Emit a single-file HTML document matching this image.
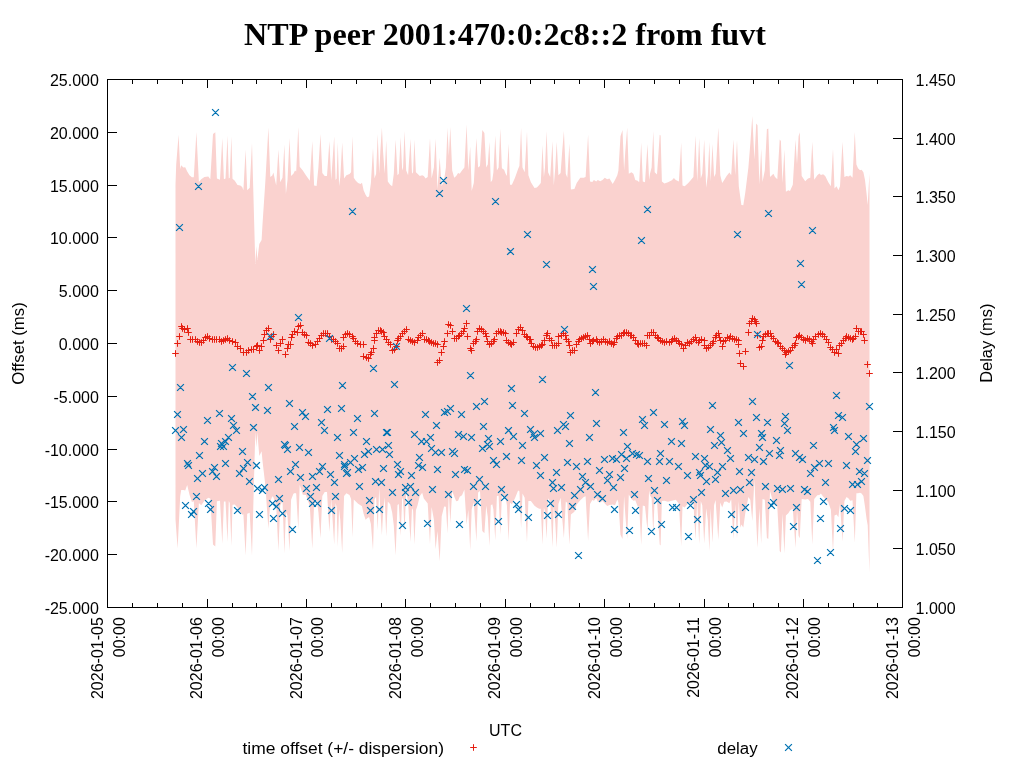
<!DOCTYPE html>
<html lang="en"><head><meta charset="utf-8"><title>NTP peer 2001:470:0:2c8::2 from fuvt</title>
<style>html,body{margin:0;padding:0;background:#fff;}body{width:1024px;height:768px;overflow:hidden;}svg{display:block;}
text{font-family:"Liberation Sans",sans-serif;font-size:16px;fill:#000;}
.title{font-family:"Liberation Serif",serif;font-weight:bold;font-size:32px;}
.ax{stroke:#000;stroke-width:1;fill:none;shape-rendering:crispEdges;}
.r{stroke:#e51e10;stroke-width:1;fill:none;}.b{stroke:#0072b2;stroke-width:1.25;fill:none;}
</style></head><body>
<svg width="1024" height="768" viewBox="0 0 1024 768">
<rect x="0" y="0" width="1024" height="768" fill="#fff"/>
<text class="title" x="505" y="45" text-anchor="middle" textLength="522" lengthAdjust="spacingAndGlyphs">NTP peer 2001:470:0:2c8::2 from fuvt</text>
<polygon fill="#fad2cf" points="175.5,184.4 176.2,164.4 178.6,134.8 180.2,169.1 181.2,165.2 183.3,167.5 185.2,167.2 187.2,171.4 189.5,175.3 191.9,177.2 193.8,177.2 196.4,132.1 198.9,181.9 201.2,179.2 204.4,176.9 208.3,176.6 210.3,179.2 213.0,133.9 215.3,132.3 216.9,178.4 220.0,179.7 222.3,137.9 223.9,179.2 225.5,178.4 227.5,135.6 228.8,178.4 229.7,177.7 231.4,136.6 232.5,178.8 234.8,180.8 237.5,185.0 240.3,185.5 242.2,187.0 243.4,190.2 245.6,149.6 247.2,190.2 249.7,187.8 252.0,143.1 255.3,264.0 256.4,246.0 257.3,260.0 259.3,244.0 261.6,240.0 262.5,224.3 265.3,182.3 268.4,127.4 270.3,176.9 272.3,175.6 273.4,172.5 276.2,185.5 278.4,149.6 280.2,182.3 282.5,177.7 284.4,144.6 285.9,194.1 287.5,180.0 289.5,137.9 291.1,176.1 293.4,173.8 295.0,170.6 296.2,171.4 298.3,127.0 299.7,166.7 302.8,170.6 305.9,175.3 309.8,180.8 312.3,141.0 314.1,185.5 316.6,185.9 318.4,167.5 320.5,134.0 322.3,173.0 324.7,176.1 327.0,176.1 329.4,141.0 331.2,180.0 334.2,136.3 335.6,180.0 336.6,178.4 337.8,142.6 339.1,186.2 340.3,176.9 342.2,142.6 344.1,178.4 346.4,175.3 349.5,174.1 351.1,172.2 352.5,136.3 353.8,177.7 355.8,180.8 358.1,183.1 360.5,183.9 362.0,182.8 363.6,190.2 365.6,194.8 367.2,197.2 369.1,196.4 370.9,183.1 373.0,148.1 374.5,178.4 376.1,173.8 377.7,134.0 379.2,173.8 380.3,151.9 381.9,127.4 383.1,151.9 384.7,173.8 386.2,140.2 387.8,181.6 390.2,184.7 392.2,186.2 393.8,173.8 395.6,139.5 397.5,175.3 398.8,173.8 400.6,137.1 402.2,170.6 403.1,167.5 404.5,130.9 406.2,170.6 408.1,175.3 410.5,138.7 412.0,173.8 413.1,172.2 414.4,139.5 415.9,172.2 417.5,173.8 419.8,176.1 422.2,175.3 423.8,176.1 425.6,178.4 427.7,176.9 430.0,137.9 431.6,178.4 433.9,167.5 435.6,138.7 437.5,189.4 439.7,157.4 441.7,186.2 444.1,180.0 445.9,167.5 447.5,127.7 448.8,155.9 450.3,127.0 452.2,170.6 454.2,177.7 456.2,176.1 458.1,173.0 459.7,173.8 462.0,170.6 464.4,167.5 466.6,124.6 468.3,170.6 470.2,146.5 471.7,190.9 473.8,183.1 476.4,137.9 478.1,167.5 480.0,165.9 482.3,130.0 484.4,133.1 486.2,167.5 487.8,164.4 489.4,141.8 490.8,182.3 492.3,180.0 493.4,172.2 495.3,135.6 496.9,170.6 498.6,167.5 500.3,128.5 501.9,168.3 504.1,169.8 505.6,173.8 506.9,176.1 508.6,143.4 510.0,184.7 511.9,184.7 515.0,177.7 518.1,169.1 519.4,165.9 521.1,127.7 522.5,167.5 524.7,172.2 527.0,131.6 528.4,175.3 530.9,182.3 534.5,188.1 536.9,187.5 539.2,185.0 540.8,183.1 542.5,144.9 543.9,176.9 545.0,167.5 546.6,130.9 548.1,172.2 550.2,176.9 552.5,141.0 553.8,185.5 555.3,167.5 556.7,141.8 558.4,175.3 560.6,173.0 562.2,151.2 563.9,130.9 565.8,173.8 567.3,177.7 569.4,143.4 570.9,189.4 574.4,189.1 576.7,183.1 580.3,177.7 583.8,177.7 585.6,176.9 588.1,134.5 590.0,181.6 592.3,181.9 593.9,180.0 596.2,181.6 597.8,180.0 600.2,181.2 602.5,180.0 604.8,177.7 607.2,179.2 609.5,178.4 612.7,183.9 615.0,180.0 617.3,175.3 618.4,170.6 620.5,136.2 622.5,130.0 624.1,170.6 625.3,151.2 627.2,127.4 628.8,173.8 631.4,172.2 633.4,173.8 635.3,180.0 637.7,180.8 639.2,182.3 641.2,142.6 642.8,181.6 645.0,182.3 647.5,144.1 649.1,180.0 650.0,173.8 651.6,167.5 653.3,130.9 654.7,172.2 657.0,174.5 658.6,151.2 659.7,134.7 660.6,135.5 661.9,181.6 664.4,183.4 668.0,182.3 671.9,180.3 673.9,178.0 675.8,180.0 678.9,181.6 681.2,142.6 682.5,185.5 684.7,186.2 688.3,183.1 690.9,180.0 693.4,176.9 695.5,135.6 697.2,181.6 699.2,137.9 700.8,178.4 702.3,173.8 704.2,139.5 706.2,187.8 707.8,175.3 709.4,141.8 710.6,181.6 712.5,144.1 714.1,176.9 715.6,173.8 718.3,127.4 720.3,175.3 722.2,183.1 724.2,180.0 726.6,176.1 729.4,172.5 731.2,175.3 733.4,139.5 735.2,175.3 737.0,140.2 738.8,186.2 740.3,197.2 741.4,205.0 743.3,205.3 745.3,192.5 748.4,167.5 750.3,144.1 752.3,116.0 754.4,159.7 756.2,123.4 757.5,125.3 759.4,184.7 761.2,148.8 762.5,182.0 764.8,170.6 766.9,129.2 768.3,128.4 770.0,176.9 771.9,175.3 773.4,173.8 775.0,176.9 777.3,179.2 779.7,139.4 780.9,140.9 782.5,183.1 784.4,149.6 785.9,191.7 788.3,190.2 790.0,190.9 792.8,184.7 795.5,139.5 797.0,164.4 798.6,136.2 799.7,132.3 801.7,176.1 805.2,181.2 808.0,178.4 810.3,177.7 812.3,141.8 814.2,179.7 817.3,175.3 819.4,173.4 820.9,175.0 823.1,174.2 825.2,176.1 828.3,182.3 830.9,186.2 833.0,148.8 834.5,188.6 836.6,186.2 838.4,190.2 840.0,186.2 842.5,141.8 844.4,176.9 846.6,176.1 848.6,176.6 850.2,175.3 852.5,177.7 854.8,132.1 856.4,164.4 858.0,168.3 860.0,170.3 861.6,169.8 863.4,172.2 865.0,180.0 866.6,194.1 867.7,205.0 868.9,183.1 869.5,173.8 869.5,572.5 868.9,558.0 867.7,525.3 866.6,519.1 865.0,506.8 863.4,495.9 861.6,493.4 860.0,492.8 858.0,493.3 856.4,493.3 854.8,542.7 852.5,500.2 850.2,500.8 848.6,498.5 846.6,497.0 844.4,501.0 842.5,541.5 840.0,503.4 838.4,517.2 836.6,514.6 834.5,515.5 833.0,551.8 830.9,509.8 828.3,502.3 825.2,498.8 823.1,496.4 820.9,493.4 819.4,495.0 817.3,495.2 814.2,499.1 812.3,544.5 810.3,501.8 808.0,499.1 805.2,499.6 801.7,499.1 799.7,538.2 798.6,535.8 797.0,509.7 795.5,547.9 792.8,508.8 790.0,510.5 788.3,513.3 785.9,515.4 784.4,553.4 782.5,513.5 780.9,552.4 779.7,550.9 777.3,506.7 775.0,504.4 773.4,503.4 771.9,497.7 770.0,491.1 768.3,539.1 766.9,538.0 764.8,499.7 762.5,498.9 761.2,543.9 759.4,508.2 757.5,547.9 756.2,521.9 754.4,479.3 752.3,521.1 750.3,499.8 748.4,497.0 745.3,513.1 743.3,527.4 741.4,524.4 740.3,527.8 738.8,501.0 737.0,538.7 735.2,504.0 733.4,539.0 731.2,499.3 729.4,503.3 726.6,501.5 724.2,501.8 722.2,507.6 720.3,502.6 718.3,540.1 715.6,500.1 714.1,505.0 712.5,542.7 710.6,508.3 709.4,551.0 707.8,520.0 706.2,508.3 704.2,543.5 702.3,505.5 700.8,501.1 699.2,544.1 697.2,500.2 695.5,539.5 693.4,502.6 690.9,503.4 688.3,502.9 684.7,507.5 682.5,506.2 681.2,546.2 678.9,503.7 675.8,499.7 673.9,500.3 671.9,500.7 668.0,501.8 664.4,500.8 661.9,501.1 660.6,545.5 659.7,544.5 658.6,525.9 657.0,500.5 654.7,497.2 653.3,533.6 651.6,498.0 650.0,495.4 649.1,490.3 647.5,530.8 645.0,506.3 642.8,505.4 641.2,545.0 639.2,506.6 637.7,506.5 635.3,500.3 633.4,500.7 631.4,498.9 628.8,494.6 627.2,538.9 625.3,514.5 624.1,496.1 622.5,538.9 620.5,534.7 618.4,502.5 617.3,499.6 615.0,505.3 612.7,504.4 609.5,504.9 607.2,506.0 604.8,503.4 602.5,501.0 600.2,502.6 597.8,501.8 596.2,498.2 593.9,500.8 592.3,500.0 590.0,503.9 588.1,540.9 585.6,496.3 583.8,497.1 580.3,500.2 576.7,504.5 574.4,511.8 570.9,514.4 569.4,544.7 567.3,502.9 565.8,501.5 563.9,538.1 562.2,518.0 560.6,497.8 558.4,503.9 556.7,547.7 555.3,523.4 553.8,505.4 552.5,547.3 550.2,501.5 548.1,498.3 546.6,539.1 545.0,511.3 543.9,507.4 542.5,544.7 540.8,508.8 539.2,508.8 536.9,507.4 534.5,505.8 530.9,501.1 528.4,501.0 527.0,542.4 524.7,497.8 522.5,493.4 521.1,528.5 519.4,491.2 518.1,490.6 515.0,498.2 511.9,504.3 510.0,502.8 508.6,541.3 506.9,505.2 505.6,497.4 504.1,496.0 501.9,496.1 500.3,534.8 498.6,495.8 496.9,495.9 495.3,540.6 493.4,509.4 492.3,504.3 490.8,505.3 489.4,546.0 487.8,517.0 486.2,505.6 484.4,533.2 482.3,530.9 480.0,491.0 478.1,492.4 476.4,541.4 473.8,502.3 471.7,509.3 470.2,550.2 468.3,509.8 466.6,524.4 464.4,489.5 462.0,495.2 459.7,496.8 458.1,500.7 456.2,501.2 454.2,496.6 452.2,491.1 450.3,523.3 448.8,492.8 447.5,533.7 445.9,506.8 444.1,506.6 441.7,516.2 439.7,561.2 437.5,530.9 435.6,549.3 433.9,519.5 431.6,506.9 430.0,544.3 427.7,503.6 425.6,500.7 423.8,498.4 422.2,492.8 419.8,496.1 417.5,505.5 415.9,510.3 414.4,544.6 413.1,510.6 412.0,508.1 410.5,542.1 408.1,502.4 406.2,491.1 404.5,531.9 403.1,498.8 402.2,498.2 400.6,535.9 398.8,504.1 397.5,505.0 395.6,555.4 393.8,525.4 392.2,512.8 390.2,504.3 387.8,501.5 386.2,536.8 384.7,497.3 383.1,512.0 381.9,535.2 380.3,508.7 379.2,487.3 377.7,530.5 376.1,496.7 374.5,499.6 373.0,550.3 370.9,523.9 369.1,516.9 367.2,518.2 365.6,519.7 363.6,513.7 362.0,506.3 360.5,505.2 358.1,503.8 355.8,501.6 353.8,499.4 352.5,537.4 351.1,498.9 349.5,495.0 346.4,493.3 344.1,496.0 342.2,553.0 340.3,519.8 339.1,509.1 337.8,546.9 336.6,507.1 335.6,503.1 334.2,544.6 331.2,498.6 329.4,532.0 327.0,491.9 324.7,491.9 322.3,496.1 320.5,538.3 318.4,512.1 316.6,499.7 314.1,504.2 312.3,548.7 309.8,506.1 305.9,495.1 302.8,494.8 299.7,484.8 298.3,529.5 296.2,493.4 295.0,493.0 293.4,493.7 291.1,499.8 289.5,551.2 287.5,515.8 285.9,511.5 284.4,553.4 282.5,500.9 280.2,505.6 278.4,550.9 276.2,505.6 273.4,497.2 272.3,496.3 270.3,501.3 268.4,528.8 265.3,485.1 262.5,461.0 261.6,451.3 259.3,455.9 257.3,432.2 256.4,447.4 255.3,431.8 252.0,555.7 249.7,512.7 247.2,513.8 245.6,555.6 243.4,514.2 242.2,514.7 240.3,511.8 237.5,507.8 234.8,504.6 232.5,504.8 231.4,545.9 229.7,503.1 228.8,500.9 227.5,541.9 225.5,501.4 223.9,501.6 222.3,543.7 220.0,500.8 216.9,501.3 215.3,546.6 213.0,544.6 210.3,498.4 208.3,497.7 204.4,500.7 201.2,505.2 198.9,502.9 196.4,548.2 193.8,501.3 191.9,501.9 189.5,494.8 187.2,485.0 185.2,490.6 183.3,490.1 181.2,489.9 180.2,496.2 177.6,548.5 175.5,519.5"/>
<path class="r" d="M172.2 353.5h6.6M175.5 350.2v6.6M174.2 343.5h6.6M177.5 340.2v6.6M176.2 336.5h6.6M179.5 333.2v6.6M178.2 326.5h6.6M181.5 323.2v6.6M179.2 328.5h6.6M182.5 325.2v6.6M181.2 329.5h6.6M184.5 326.2v6.6M184.2 328.5h6.6M187.5 325.2v6.6M185.2 332.5h6.6M188.5 329.2v6.6M187.2 339.5h6.6M190.5 336.2v6.6M189.2 339.5h6.6M192.5 336.2v6.6M192.2 339.5h6.6M195.5 336.2v6.6M194.2 341.5h6.6M197.5 338.2v6.6M196.2 342.5h6.6M199.5 339.2v6.6M198.2 342.5h6.6M201.5 339.2v6.6M200.2 340.5h6.6M203.5 337.2v6.6M202.2 337.5h6.6M205.5 334.2v6.6M204.2 336.5h6.6M207.5 333.2v6.6M206.2 338.5h6.6M209.5 335.2v6.6M209.2 339.5h6.6M212.5 336.2v6.6M211.2 339.5h6.6M214.5 336.2v6.6M213.2 339.5h6.6M216.5 336.2v6.6M216.2 339.5h6.6M219.5 336.2v6.6M218.2 341.5h6.6M221.5 338.2v6.6M220.2 340.5h6.6M223.5 337.2v6.6M222.2 339.5h6.6M225.5 336.2v6.6M224.2 338.5h6.6M227.5 335.2v6.6M226.2 340.5h6.6M229.5 337.2v6.6M229.2 341.5h6.6M232.5 338.2v6.6M232.2 342.5h6.6M235.5 339.2v6.6M234.2 346.5h6.6M237.5 343.2v6.6M237.2 348.5h6.6M240.5 345.2v6.6M240.2 352.5h6.6M243.5 349.2v6.6M243.2 352.5h6.6M246.5 349.2v6.6M245.2 350.5h6.6M248.5 347.2v6.6M248.2 349.5h6.6M251.5 346.2v6.6M250.2 349.5h6.6M253.5 346.2v6.6M253.2 346.5h6.6M256.5 343.2v6.6M254.2 345.5h6.6M257.5 342.2v6.6M256.2 350.5h6.6M259.5 347.2v6.6M258.2 346.5h6.6M261.5 343.2v6.6M260.2 340.5h6.6M263.5 337.2v6.6M261.2 334.5h6.6M264.5 331.2v6.6M263.2 330.5h6.6M266.5 327.2v6.6M265.2 328.5h6.6M268.5 325.2v6.6M267.2 339.5h6.6M270.5 336.2v6.6M268.2 336.5h6.6M271.5 333.2v6.6M270.2 334.5h6.6M273.5 331.2v6.6M273.2 345.5h6.6M276.5 342.2v6.6M275.2 350.5h6.6M278.5 347.2v6.6M277.2 343.5h6.6M280.5 340.2v6.6M279.2 339.5h6.6M282.5 336.2v6.6M282.2 354.5h6.6M285.5 351.2v6.6M284.2 348.5h6.6M287.5 345.2v6.6M285.2 344.5h6.6M288.5 341.2v6.6M287.2 344.5h6.6M290.5 341.2v6.6M288.2 337.5h6.6M291.5 334.2v6.6M289.2 334.5h6.6M292.5 331.2v6.6M291.2 331.5h6.6M294.5 328.2v6.6M294.2 332.5h6.6M297.5 329.2v6.6M295.2 326.5h6.6M298.5 323.2v6.6M297.2 325.5h6.6M300.5 322.2v6.6M299.2 332.5h6.6M302.5 329.2v6.6M301.2 334.5h6.6M304.5 331.2v6.6M303.2 335.5h6.6M306.5 332.2v6.6M305.2 342.5h6.6M308.5 339.2v6.6M307.2 343.5h6.6M310.5 340.2v6.6M309.2 345.5h6.6M312.5 342.2v6.6M312.2 344.5h6.6M315.5 341.2v6.6M314.2 341.5h6.6M317.5 338.2v6.6M316.2 338.5h6.6M319.5 335.2v6.6M318.2 335.5h6.6M321.5 332.2v6.6M320.2 333.5h6.6M323.5 330.2v6.6M322.2 333.5h6.6M325.5 330.2v6.6M324.2 333.5h6.6M327.5 330.2v6.6M326.2 336.5h6.6M329.5 333.2v6.6M328.2 339.5h6.6M331.5 336.2v6.6M330.2 339.5h6.6M333.5 336.2v6.6M332.2 341.5h6.6M335.5 338.2v6.6M334.2 343.5h6.6M337.5 340.2v6.6M336.2 348.5h6.6M339.5 345.2v6.6M338.2 348.5h6.6M341.5 345.2v6.6M340.2 346.5h6.6M343.5 343.2v6.6M340.2 337.5h6.6M343.5 334.2v6.6M342.2 334.5h6.6M345.5 331.2v6.6M344.2 333.5h6.6M347.5 330.2v6.6M346.2 334.5h6.6M349.5 331.2v6.6M349.2 336.5h6.6M352.5 333.2v6.6M350.2 338.5h6.6M353.5 335.2v6.6M352.2 341.5h6.6M355.5 338.2v6.6M354.2 343.5h6.6M357.5 340.2v6.6M357.2 344.5h6.6M360.5 341.2v6.6M360.2 344.5h6.6M363.5 341.2v6.6M360.2 356.5h6.6M363.5 353.2v6.6M363.2 357.5h6.6M366.5 354.2v6.6M365.2 358.5h6.6M368.5 355.2v6.6M367.2 354.5h6.6M370.5 351.2v6.6M368.2 352.5h6.6M371.5 349.2v6.6M370.2 348.5h6.6M373.5 345.2v6.6M371.2 340.5h6.6M374.5 337.2v6.6M371.2 337.5h6.6M374.5 334.2v6.6M373.2 333.5h6.6M376.5 330.2v6.6M375.2 330.5h6.6M378.5 327.2v6.6M377.2 330.5h6.6M380.5 327.2v6.6M378.2 331.5h6.6M381.5 328.2v6.6M380.2 332.5h6.6M383.5 329.2v6.6M381.2 336.5h6.6M384.5 333.2v6.6M383.2 339.5h6.6M386.5 336.2v6.6M385.2 342.5h6.6M388.5 339.2v6.6M387.2 344.5h6.6M390.5 341.2v6.6M389.2 350.5h6.6M392.5 347.2v6.6M391.2 349.5h6.6M394.5 346.2v6.6M393.2 346.5h6.6M396.5 343.2v6.6M394.2 340.5h6.6M397.5 337.2v6.6M395.2 338.5h6.6M398.5 335.2v6.6M397.2 336.5h6.6M400.5 333.2v6.6M399.2 333.5h6.6M402.5 330.2v6.6M401.2 331.5h6.6M404.5 328.2v6.6M403.2 329.5h6.6M406.5 326.2v6.6M405.2 339.5h6.6M408.5 336.2v6.6M407.2 340.5h6.6M410.5 337.2v6.6M409.2 341.5h6.6M412.5 338.2v6.6M411.2 342.5h6.6M414.5 339.2v6.6M414.2 340.5h6.6M417.5 337.2v6.6M415.2 337.5h6.6M418.5 334.2v6.6M417.2 335.5h6.6M420.5 332.2v6.6M419.2 333.5h6.6M422.5 330.2v6.6M421.2 339.5h6.6M424.5 336.2v6.6M423.2 339.5h6.6M426.5 336.2v6.6M425.2 340.5h6.6M428.5 337.2v6.6M426.2 341.5h6.6M429.5 338.2v6.6M428.2 342.5h6.6M431.5 339.2v6.6M430.2 343.5h6.6M433.5 340.2v6.6M432.2 343.5h6.6M435.5 340.2v6.6M434.2 344.5h6.6M437.5 341.2v6.6M434.2 362.5h6.6M437.5 359.2v6.6M436.2 360.5h6.6M439.5 357.2v6.6M438.2 352.5h6.6M441.5 349.2v6.6M440.2 346.5h6.6M443.5 343.2v6.6M441.2 341.5h6.6M444.5 338.2v6.6M444.2 333.5h6.6M447.5 330.2v6.6M445.2 324.5h6.6M448.5 321.2v6.6M447.2 325.5h6.6M450.5 322.2v6.6M449.2 331.5h6.6M452.5 328.2v6.6M451.2 338.5h6.6M454.5 335.2v6.6M453.2 338.5h6.6M456.5 335.2v6.6M455.2 336.5h6.6M458.5 333.2v6.6M456.2 335.5h6.6M459.5 332.2v6.6M458.2 333.5h6.6M461.5 330.2v6.6M460.2 331.5h6.6M463.5 328.2v6.6M461.2 328.5h6.6M464.5 325.2v6.6M463.2 323.5h6.6M466.5 320.2v6.6M464.2 336.5h6.6M467.5 333.2v6.6M467.2 348.5h6.6M470.5 345.2v6.6M468.2 350.5h6.6M471.5 347.2v6.6M470.2 343.5h6.6M473.5 340.2v6.6M472.2 341.5h6.6M475.5 338.2v6.6M473.2 339.5h6.6M476.5 336.2v6.6M474.2 331.5h6.6M477.5 328.2v6.6M476.2 328.5h6.6M479.5 325.2v6.6M478.2 329.5h6.6M481.5 326.2v6.6M480.2 331.5h6.6M483.5 328.2v6.6M482.2 333.5h6.6M485.5 330.2v6.6M483.2 336.5h6.6M486.5 333.2v6.6M484.2 341.5h6.6M487.5 338.2v6.6M486.2 344.5h6.6M489.5 341.2v6.6M488.2 343.5h6.6M491.5 340.2v6.6M490.2 341.5h6.6M493.5 338.2v6.6M491.2 339.5h6.6M494.5 336.2v6.6M493.2 333.5h6.6M496.5 330.2v6.6M495.2 331.5h6.6M498.5 328.2v6.6M497.2 331.5h6.6M500.5 328.2v6.6M498.2 332.5h6.6M501.5 329.2v6.6M500.2 332.5h6.6M503.5 329.2v6.6M502.2 333.5h6.6M505.5 330.2v6.6M503.2 340.5h6.6M506.5 337.2v6.6M505.2 342.5h6.6M508.5 339.2v6.6M507.2 343.5h6.6M510.5 340.2v6.6M508.2 344.5h6.6M511.5 341.2v6.6M510.2 342.5h6.6M513.5 339.2v6.6M513.2 333.5h6.6M516.5 330.2v6.6M515.2 329.5h6.6M518.5 326.2v6.6M517.2 327.5h6.6M520.5 324.2v6.6M519.2 330.5h6.6M522.5 327.2v6.6M521.2 334.5h6.6M524.5 331.2v6.6M523.2 336.5h6.6M526.5 333.2v6.6M524.2 337.5h6.6M527.5 334.2v6.6M526.2 339.5h6.6M529.5 336.2v6.6M527.2 339.5h6.6M530.5 336.2v6.6M528.2 343.5h6.6M531.5 340.2v6.6M530.2 346.5h6.6M533.5 343.2v6.6M532.2 347.5h6.6M535.5 344.2v6.6M534.2 347.5h6.6M537.5 344.2v6.6M536.2 346.5h6.6M539.5 343.2v6.6M538.2 345.5h6.6M541.5 342.2v6.6M539.2 344.5h6.6M542.5 341.2v6.6M541.2 340.5h6.6M544.5 337.2v6.6M543.2 335.5h6.6M546.5 332.2v6.6M544.2 333.5h6.6M547.5 330.2v6.6M546.2 338.5h6.6M549.5 335.2v6.6M548.2 340.5h6.6M551.5 337.2v6.6M549.2 345.5h6.6M552.5 342.2v6.6M551.2 345.5h6.6M554.5 342.2v6.6M553.2 345.5h6.6M556.5 342.2v6.6M555.2 343.5h6.6M558.5 340.2v6.6M555.2 336.5h6.6M558.5 333.2v6.6M558.2 335.5h6.6M561.5 332.2v6.6M560.2 333.5h6.6M563.5 330.2v6.6M562.2 335.5h6.6M565.5 332.2v6.6M563.2 339.5h6.6M566.5 336.2v6.6M565.2 341.5h6.6M568.5 338.2v6.6M566.2 345.5h6.6M569.5 342.2v6.6M567.2 352.5h6.6M570.5 349.2v6.6M569.2 350.5h6.6M572.5 347.2v6.6M571.2 350.5h6.6M574.5 347.2v6.6M573.2 344.5h6.6M576.5 341.2v6.6M575.2 341.5h6.6M578.5 338.2v6.6M576.2 339.5h6.6M579.5 336.2v6.6M578.2 338.5h6.6M581.5 335.2v6.6M580.2 337.5h6.6M583.5 334.2v6.6M582.2 336.5h6.6M585.5 333.2v6.6M584.2 335.5h6.6M587.5 332.2v6.6M586.2 339.5h6.6M589.5 336.2v6.6M587.2 343.5h6.6M590.5 340.2v6.6M589.2 341.5h6.6M592.5 338.2v6.6M590.2 340.5h6.6M593.5 337.2v6.6M593.2 339.5h6.6M596.5 336.2v6.6M594.2 341.5h6.6M597.5 338.2v6.6M596.2 342.5h6.6M599.5 339.2v6.6M598.2 341.5h6.6M601.5 338.2v6.6M600.2 339.5h6.6M603.5 336.2v6.6M602.2 341.5h6.6M605.5 338.2v6.6M604.2 342.5h6.6M607.5 339.2v6.6M606.2 341.5h6.6M609.5 338.2v6.6M608.2 343.5h6.6M611.5 340.2v6.6M610.2 344.5h6.6M613.5 341.2v6.6M611.2 342.5h6.6M614.5 339.2v6.6M613.2 338.5h6.6M616.5 335.2v6.6M614.2 336.5h6.6M617.5 333.2v6.6M616.2 335.5h6.6M619.5 332.2v6.6M618.2 335.5h6.6M621.5 332.2v6.6M620.2 333.5h6.6M623.5 330.2v6.6M621.2 332.5h6.6M624.5 329.2v6.6M623.2 332.5h6.6M626.5 329.2v6.6M625.2 333.5h6.6M628.5 330.2v6.6M627.2 335.5h6.6M630.5 332.2v6.6M628.2 335.5h6.6M631.5 332.2v6.6M630.2 337.5h6.6M633.5 334.2v6.6M632.2 340.5h6.6M635.5 337.2v6.6M634.2 343.5h6.6M637.5 340.2v6.6M635.2 344.5h6.6M638.5 341.2v6.6M637.2 343.5h6.6M640.5 340.2v6.6M639.2 343.5h6.6M642.5 340.2v6.6M641.2 343.5h6.6M644.5 340.2v6.6M643.2 345.5h6.6M646.5 342.2v6.6M644.2 335.5h6.6M647.5 332.2v6.6M646.2 335.5h6.6M649.5 332.2v6.6M648.2 332.5h6.6M651.5 329.2v6.6M650.2 332.5h6.6M653.5 329.2v6.6M652.2 335.5h6.6M655.5 332.2v6.6M654.2 337.5h6.6M657.5 334.2v6.6M655.2 338.5h6.6M658.5 335.2v6.6M657.2 340.5h6.6M660.5 337.2v6.6M659.2 341.5h6.6M662.5 338.2v6.6M661.2 342.5h6.6M664.5 339.2v6.6M663.2 341.5h6.6M666.5 338.2v6.6M666.2 342.5h6.6M669.5 339.2v6.6M668.2 341.5h6.6M671.5 338.2v6.6M669.2 339.5h6.6M672.5 336.2v6.6M671.2 338.5h6.6M674.5 335.2v6.6M673.2 340.5h6.6M676.5 337.2v6.6M675.2 341.5h6.6M678.5 338.2v6.6M676.2 343.5h6.6M679.5 340.2v6.6M678.2 344.5h6.6M681.5 341.2v6.6M680.2 348.5h6.6M683.5 345.2v6.6M682.2 345.5h6.6M685.5 342.2v6.6M684.2 342.5h6.6M687.5 339.2v6.6M686.2 343.5h6.6M689.5 340.2v6.6M688.2 341.5h6.6M691.5 338.2v6.6M690.2 339.5h6.6M693.5 336.2v6.6M692.2 337.5h6.6M695.5 334.2v6.6M693.2 340.5h6.6M696.5 337.2v6.6M695.2 342.5h6.6M698.5 339.2v6.6M696.2 340.5h6.6M699.5 337.2v6.6M698.2 339.5h6.6M701.5 336.2v6.6M701.2 340.5h6.6M704.5 337.2v6.6M701.2 345.5h6.6M704.5 342.2v6.6M703.2 348.5h6.6M706.5 345.2v6.6M705.2 347.5h6.6M708.5 344.2v6.6M707.2 345.5h6.6M710.5 342.2v6.6M709.2 343.5h6.6M712.5 340.2v6.6M710.2 341.5h6.6M713.5 338.2v6.6M712.2 337.5h6.6M715.5 334.2v6.6M713.2 335.5h6.6M716.5 332.2v6.6M715.2 333.5h6.6M718.5 330.2v6.6M716.2 337.5h6.6M719.5 334.2v6.6M717.2 340.5h6.6M720.5 337.2v6.6M719.2 346.5h6.6M722.5 343.2v6.6M720.2 341.5h6.6M723.5 338.2v6.6M722.2 340.5h6.6M725.5 337.2v6.6M724.2 337.5h6.6M727.5 334.2v6.6M726.2 338.5h6.6M729.5 335.2v6.6M727.2 336.5h6.6M730.5 333.2v6.6M729.2 338.5h6.6M732.5 335.2v6.6M731.2 339.5h6.6M734.5 336.2v6.6M733.2 339.5h6.6M736.5 336.2v6.6M735.2 340.5h6.6M738.5 337.2v6.6M735.2 344.5h6.6M738.5 341.2v6.6M736.2 353.5h6.6M739.5 350.2v6.6M737.2 363.5h6.6M740.5 360.2v6.6M740.2 366.5h6.6M743.5 363.2v6.6M742.2 351.5h6.6M745.5 348.2v6.6M745.2 332.5h6.6M748.5 329.2v6.6M746.2 323.5h6.6M749.5 320.2v6.6M748.2 321.5h6.6M751.5 318.2v6.6M749.2 318.5h6.6M752.5 315.2v6.6M751.2 319.5h6.6M754.5 316.2v6.6M752.2 321.5h6.6M755.5 318.2v6.6M753.2 323.5h6.6M756.5 320.2v6.6M754.2 335.5h6.6M757.5 332.2v6.6M756.2 347.5h6.6M759.5 344.2v6.6M758.2 346.5h6.6M761.5 343.2v6.6M759.2 340.5h6.6M762.5 337.2v6.6M760.2 336.5h6.6M763.5 333.2v6.6M762.2 334.5h6.6M765.5 331.2v6.6M764.2 333.5h6.6M767.5 330.2v6.6M765.2 333.5h6.6M768.5 330.2v6.6M767.2 333.5h6.6M770.5 330.2v6.6M768.2 336.5h6.6M771.5 333.2v6.6M770.2 338.5h6.6M773.5 335.2v6.6M772.2 341.5h6.6M775.5 338.2v6.6M774.2 342.5h6.6M777.5 339.2v6.6M775.2 343.5h6.6M778.5 340.2v6.6M777.2 346.5h6.6M780.5 343.2v6.6M779.2 348.5h6.6M782.5 345.2v6.6M781.2 350.5h6.6M784.5 347.2v6.6M782.2 354.5h6.6M785.5 351.2v6.6M783.2 352.5h6.6M786.5 349.2v6.6M785.2 351.5h6.6M788.5 348.2v6.6M787.2 350.5h6.6M790.5 347.2v6.6M789.2 347.5h6.6M792.5 344.2v6.6M791.2 345.5h6.6M794.5 342.2v6.6M792.2 343.5h6.6M795.5 340.2v6.6M793.2 337.5h6.6M796.5 334.2v6.6M795.2 336.5h6.6M798.5 333.2v6.6M796.2 335.5h6.6M799.5 332.2v6.6M798.2 337.5h6.6M801.5 334.2v6.6M800.2 339.5h6.6M803.5 336.2v6.6M802.2 340.5h6.6M805.5 337.2v6.6M804.2 338.5h6.6M807.5 335.2v6.6M806.2 339.5h6.6M809.5 336.2v6.6M808.2 341.5h6.6M811.5 338.2v6.6M809.2 343.5h6.6M812.5 340.2v6.6M810.2 339.5h6.6M813.5 336.2v6.6M812.2 336.5h6.6M815.5 333.2v6.6M815.2 334.5h6.6M818.5 331.2v6.6M817.2 333.5h6.6M820.5 330.2v6.6M819.2 334.5h6.6M822.5 331.2v6.6M821.2 336.5h6.6M824.5 333.2v6.6M823.2 339.5h6.6M826.5 336.2v6.6M825.2 342.5h6.6M828.5 339.2v6.6M827.2 347.5h6.6M830.5 344.2v6.6M829.2 349.5h6.6M832.5 346.2v6.6M831.2 352.5h6.6M834.5 349.2v6.6M833.2 349.5h6.6M836.5 346.2v6.6M835.2 353.5h6.6M838.5 350.2v6.6M836.2 345.5h6.6M839.5 342.2v6.6M838.2 343.5h6.6M841.5 340.2v6.6M840.2 340.5h6.6M843.5 337.2v6.6M842.2 338.5h6.6M845.5 335.2v6.6M843.2 336.5h6.6M846.5 333.2v6.6M845.2 337.5h6.6M848.5 334.2v6.6M847.2 338.5h6.6M850.5 335.2v6.6M849.2 339.5h6.6M852.5 336.2v6.6M850.2 338.5h6.6M853.5 335.2v6.6M852.2 336.5h6.6M855.5 333.2v6.6M853.2 328.5h6.6M856.5 325.2v6.6M855.2 331.5h6.6M858.5 328.2v6.6M857.2 331.5h6.6M860.5 328.2v6.6M858.2 331.5h6.6M861.5 328.2v6.6M860.2 334.5h6.6M863.5 331.2v6.6M861.2 340.5h6.6M864.5 337.2v6.6M864.2 364.5h6.6M867.5 361.2v6.6M866.2 373.5h6.6M869.5 370.2v6.6"/>
<path class="b" d="M229.1 364.1l6.8 6.8M229.1 370.9l6.8 -6.8M243.1 370.1l6.8 6.8M243.1 376.9l6.8 -6.8M177.1 384.1l6.8 6.8M177.1 390.9l6.8 -6.8M265.1 384.1l6.8 6.8M265.1 390.9l6.8 -6.8M249.1 393.1l6.8 6.8M249.1 399.9l6.8 -6.8M286.1 400.1l6.8 6.8M286.1 406.9l6.8 -6.8M252.1 404.1l6.8 6.8M252.1 410.9l6.8 -6.8M264.1 407.1l6.8 6.8M264.1 413.9l6.8 -6.8M324.1 406.1l6.8 6.8M324.1 412.9l6.8 -6.8M174.1 411.1l6.8 6.8M174.1 417.9l6.8 -6.8M216.1 410.1l6.8 6.8M216.1 416.9l6.8 -6.8M299.1 409.1l6.8 6.8M299.1 415.9l6.8 -6.8M302.1 413.1l6.8 6.8M302.1 419.9l6.8 -6.8M204.1 417.1l6.8 6.8M204.1 423.9l6.8 -6.8M228.1 415.1l6.8 6.8M228.1 421.9l6.8 -6.8M318.1 419.1l6.8 6.8M318.1 425.9l6.8 -6.8M230.1 422.1l6.8 6.8M230.1 428.9l6.8 -6.8M250.1 424.1l6.8 6.8M250.1 430.9l6.8 -6.8M291.1 423.1l6.8 6.8M291.1 429.9l6.8 -6.8M172.1 427.1l6.8 6.8M172.1 433.9l6.8 -6.8M180.1 426.1l6.8 6.8M180.1 432.9l6.8 -6.8M233.1 427.1l6.8 6.8M233.1 433.9l6.8 -6.8M321.1 427.1l6.8 6.8M321.1 433.9l6.8 -6.8M178.1 434.1l6.8 6.8M178.1 440.9l6.8 -6.8M225.1 434.1l6.8 6.8M225.1 440.9l6.8 -6.8M201.1 438.1l6.8 6.8M201.1 444.9l6.8 -6.8M222.1 438.1l6.8 6.8M222.1 444.9l6.8 -6.8M218.1 440.1l6.8 6.8M218.1 446.9l6.8 -6.8M281.1 441.1l6.8 6.8M281.1 447.9l6.8 -6.8M282.1 442.1l6.8 6.8M282.1 448.9l6.8 -6.8M217.1 443.1l6.8 6.8M217.1 449.9l6.8 -6.8M220.1 443.1l6.8 6.8M220.1 449.9l6.8 -6.8M284.1 446.1l6.8 6.8M284.1 452.9l6.8 -6.8M296.1 444.1l6.8 6.8M296.1 450.9l6.8 -6.8M305.1 449.1l6.8 6.8M305.1 455.9l6.8 -6.8M239.1 448.1l6.8 6.8M239.1 454.9l6.8 -6.8M196.1 452.1l6.8 6.8M196.1 458.9l6.8 -6.8M184.1 460.1l6.8 6.8M184.1 466.9l6.8 -6.8M185.1 462.1l6.8 6.8M185.1 468.9l6.8 -6.8M222.1 460.1l6.8 6.8M222.1 466.9l6.8 -6.8M244.1 459.1l6.8 6.8M244.1 465.9l6.8 -6.8M253.1 462.1l6.8 6.8M253.1 468.9l6.8 -6.8M292.1 461.1l6.8 6.8M292.1 467.9l6.8 -6.8M319.1 463.1l6.8 6.8M319.1 469.9l6.8 -6.8M211.1 464.1l6.8 6.8M211.1 470.9l6.8 -6.8M240.1 465.1l6.8 6.8M240.1 471.9l6.8 -6.8M209.1 468.1l6.8 6.8M209.1 474.9l6.8 -6.8M199.1 470.1l6.8 6.8M199.1 476.9l6.8 -6.8M236.1 470.1l6.8 6.8M236.1 476.9l6.8 -6.8M287.1 468.1l6.8 6.8M287.1 474.9l6.8 -6.8M316.1 468.1l6.8 6.8M316.1 474.9l6.8 -6.8M194.1 475.1l6.8 6.8M194.1 481.9l6.8 -6.8M213.1 473.1l6.8 6.8M213.1 479.9l6.8 -6.8M275.1 476.1l6.8 6.8M275.1 482.9l6.8 -6.8M297.1 474.1l6.8 6.8M297.1 480.9l6.8 -6.8M309.1 473.1l6.8 6.8M309.1 479.9l6.8 -6.8M246.1 478.1l6.8 6.8M246.1 484.9l6.8 -6.8M370.1 365.1l6.8 6.8M370.1 371.9l6.8 -6.8M467.1 372.1l6.8 6.8M467.1 378.9l6.8 -6.8M339.1 382.1l6.8 6.8M339.1 388.9l6.8 -6.8M391.1 381.1l6.8 6.8M391.1 387.9l6.8 -6.8M481.1 398.1l6.8 6.8M481.1 404.9l6.8 -6.8M338.1 405.1l6.8 6.8M338.1 411.9l6.8 -6.8M473.1 403.1l6.8 6.8M473.1 409.9l6.8 -6.8M447.1 405.1l6.8 6.8M447.1 411.9l6.8 -6.8M444.1 408.1l6.8 6.8M444.1 414.9l6.8 -6.8M441.1 409.1l6.8 6.8M441.1 415.9l6.8 -6.8M371.1 410.1l6.8 6.8M371.1 416.9l6.8 -6.8M422.1 411.1l6.8 6.8M422.1 417.9l6.8 -6.8M458.1 411.1l6.8 6.8M458.1 417.9l6.8 -6.8M354.1 415.1l6.8 6.8M354.1 421.9l6.8 -6.8M433.1 422.1l6.8 6.8M433.1 428.9l6.8 -6.8M480.1 423.1l6.8 6.8M480.1 429.9l6.8 -6.8M350.1 429.1l6.8 6.8M350.1 435.9l6.8 -6.8M383.1 429.1l6.8 6.8M383.1 435.9l6.8 -6.8M384.1 429.1l6.8 6.8M384.1 435.9l6.8 -6.8M411.1 431.1l6.8 6.8M411.1 437.9l6.8 -6.8M455.1 431.1l6.8 6.8M455.1 437.9l6.8 -6.8M460.1 433.1l6.8 6.8M460.1 439.9l6.8 -6.8M468.1 434.1l6.8 6.8M468.1 440.9l6.8 -6.8M334.1 434.1l6.8 6.8M334.1 440.9l6.8 -6.8M427.1 434.1l6.8 6.8M427.1 440.9l6.8 -6.8M485.1 435.1l6.8 6.8M485.1 441.9l6.8 -6.8M363.1 438.1l6.8 6.8M363.1 444.9l6.8 -6.8M418.1 438.1l6.8 6.8M418.1 444.9l6.8 -6.8M423.1 438.1l6.8 6.8M423.1 444.9l6.8 -6.8M385.1 442.1l6.8 6.8M385.1 448.9l6.8 -6.8M484.1 441.1l6.8 6.8M484.1 447.9l6.8 -6.8M486.1 443.1l6.8 6.8M486.1 449.9l6.8 -6.8M479.1 445.1l6.8 6.8M479.1 451.9l6.8 -6.8M428.1 445.1l6.8 6.8M428.1 451.9l6.8 -6.8M373.1 446.1l6.8 6.8M373.1 452.9l6.8 -6.8M379.1 446.1l6.8 6.8M379.1 452.9l6.8 -6.8M365.1 448.1l6.8 6.8M365.1 454.9l6.8 -6.8M449.1 448.1l6.8 6.8M449.1 454.9l6.8 -6.8M451.1 450.1l6.8 6.8M451.1 456.9l6.8 -6.8M432.1 449.1l6.8 6.8M432.1 455.9l6.8 -6.8M438.1 449.1l6.8 6.8M438.1 455.9l6.8 -6.8M361.1 451.1l6.8 6.8M361.1 457.9l6.8 -6.8M386.1 451.1l6.8 6.8M386.1 457.9l6.8 -6.8M336.1 452.1l6.8 6.8M336.1 458.9l6.8 -6.8M416.1 454.1l6.8 6.8M416.1 460.9l6.8 -6.8M351.1 455.1l6.8 6.8M351.1 461.9l6.8 -6.8M347.1 459.1l6.8 6.8M347.1 465.9l6.8 -6.8M341.1 461.1l6.8 6.8M341.1 467.9l6.8 -6.8M341.1 463.1l6.8 6.8M341.1 469.9l6.8 -6.8M394.1 461.1l6.8 6.8M394.1 467.9l6.8 -6.8M415.1 462.1l6.8 6.8M415.1 468.9l6.8 -6.8M419.1 464.1l6.8 6.8M419.1 470.9l6.8 -6.8M359.1 464.1l6.8 6.8M359.1 470.9l6.8 -6.8M355.1 466.1l6.8 6.8M355.1 472.9l6.8 -6.8M380.1 465.1l6.8 6.8M380.1 471.9l6.8 -6.8M434.1 466.1l6.8 6.8M434.1 472.9l6.8 -6.8M461.1 466.1l6.8 6.8M461.1 472.9l6.8 -6.8M464.1 467.1l6.8 6.8M464.1 473.9l6.8 -6.8M397.1 468.1l6.8 6.8M397.1 474.9l6.8 -6.8M344.1 469.1l6.8 6.8M344.1 475.9l6.8 -6.8M343.1 470.1l6.8 6.8M343.1 476.9l6.8 -6.8M395.1 471.1l6.8 6.8M395.1 477.9l6.8 -6.8M327.1 471.1l6.8 6.8M327.1 477.9l6.8 -6.8M408.1 472.1l6.8 6.8M408.1 478.9l6.8 -6.8M452.1 471.1l6.8 6.8M452.1 477.9l6.8 -6.8M476.1 476.1l6.8 6.8M476.1 482.9l6.8 -6.8M331.1 479.1l6.8 6.8M331.1 485.9l6.8 -6.8M372.1 478.1l6.8 6.8M372.1 484.9l6.8 -6.8M378.1 479.1l6.8 6.8M378.1 485.9l6.8 -6.8M539.1 376.1l6.8 6.8M539.1 382.9l6.8 -6.8M508.1 385.1l6.8 6.8M508.1 391.9l6.8 -6.8M592.1 389.1l6.8 6.8M592.1 395.9l6.8 -6.8M509.1 402.1l6.8 6.8M509.1 408.9l6.8 -6.8M521.1 410.1l6.8 6.8M521.1 416.9l6.8 -6.8M567.1 412.1l6.8 6.8M567.1 418.9l6.8 -6.8M639.1 416.1l6.8 6.8M639.1 422.9l6.8 -6.8M593.1 420.1l6.8 6.8M593.1 426.9l6.8 -6.8M641.1 422.1l6.8 6.8M641.1 428.9l6.8 -6.8M560.1 421.1l6.8 6.8M560.1 427.9l6.8 -6.8M562.1 423.1l6.8 6.8M562.1 429.9l6.8 -6.8M505.1 427.1l6.8 6.8M505.1 433.9l6.8 -6.8M527.1 426.1l6.8 6.8M527.1 432.9l6.8 -6.8M554.1 427.1l6.8 6.8M554.1 433.9l6.8 -6.8M537.1 430.1l6.8 6.8M537.1 436.9l6.8 -6.8M530.1 431.1l6.8 6.8M530.1 437.9l6.8 -6.8M620.1 429.1l6.8 6.8M620.1 435.9l6.8 -6.8M510.1 433.1l6.8 6.8M510.1 439.9l6.8 -6.8M531.1 434.1l6.8 6.8M531.1 440.9l6.8 -6.8M586.1 434.1l6.8 6.8M586.1 440.9l6.8 -6.8M497.1 438.1l6.8 6.8M497.1 444.9l6.8 -6.8M566.1 440.1l6.8 6.8M566.1 446.9l6.8 -6.8M519.1 442.1l6.8 6.8M519.1 448.9l6.8 -6.8M624.1 443.1l6.8 6.8M624.1 449.9l6.8 -6.8M618.1 451.1l6.8 6.8M618.1 457.9l6.8 -6.8M629.1 450.1l6.8 6.8M629.1 456.9l6.8 -6.8M633.1 451.1l6.8 6.8M633.1 457.9l6.8 -6.8M636.1 452.1l6.8 6.8M636.1 458.9l6.8 -6.8M503.1 453.1l6.8 6.8M503.1 459.9l6.8 -6.8M541.1 454.1l6.8 6.8M541.1 460.9l6.8 -6.8M609.1 455.1l6.8 6.8M609.1 461.9l6.8 -6.8M613.1 456.1l6.8 6.8M613.1 462.9l6.8 -6.8M623.1 455.1l6.8 6.8M623.1 461.9l6.8 -6.8M601.1 456.1l6.8 6.8M601.1 462.9l6.8 -6.8M490.1 457.1l6.8 6.8M490.1 463.9l6.8 -6.8M518.1 457.1l6.8 6.8M518.1 463.9l6.8 -6.8M564.1 459.1l6.8 6.8M564.1 465.9l6.8 -6.8M584.1 458.1l6.8 6.8M584.1 464.9l6.8 -6.8M644.1 458.1l6.8 6.8M644.1 464.9l6.8 -6.8M493.1 461.1l6.8 6.8M493.1 467.9l6.8 -6.8M533.1 462.1l6.8 6.8M533.1 468.9l6.8 -6.8M573.1 463.1l6.8 6.8M573.1 469.9l6.8 -6.8M621.1 465.1l6.8 6.8M621.1 471.9l6.8 -6.8M596.1 467.1l6.8 6.8M596.1 473.9l6.8 -6.8M553.1 469.1l6.8 6.8M553.1 475.9l6.8 -6.8M537.1 472.1l6.8 6.8M537.1 478.9l6.8 -6.8M606.1 471.1l6.8 6.8M606.1 477.9l6.8 -6.8M579.1 473.1l6.8 6.8M579.1 479.9l6.8 -6.8M617.1 474.1l6.8 6.8M617.1 480.9l6.8 -6.8M645.1 475.1l6.8 6.8M645.1 481.9l6.8 -6.8M604.1 477.1l6.8 6.8M604.1 483.9l6.8 -6.8M582.1 479.1l6.8 6.8M582.1 485.9l6.8 -6.8M549.1 479.1l6.8 6.8M549.1 485.9l6.8 -6.8M786.1 362.1l6.8 6.8M786.1 368.9l6.8 -6.8M749.1 398.1l6.8 6.8M749.1 404.9l6.8 -6.8M709.1 402.1l6.8 6.8M709.1 408.9l6.8 -6.8M650.1 409.1l6.8 6.8M650.1 415.9l6.8 -6.8M782.1 413.1l6.8 6.8M782.1 419.9l6.8 -6.8M753.1 414.1l6.8 6.8M753.1 420.9l6.8 -6.8M679.1 418.1l6.8 6.8M679.1 424.9l6.8 -6.8M764.1 419.1l6.8 6.8M764.1 425.9l6.8 -6.8M735.1 419.1l6.8 6.8M735.1 425.9l6.8 -6.8M661.1 421.1l6.8 6.8M661.1 427.9l6.8 -6.8M681.1 422.1l6.8 6.8M681.1 428.9l6.8 -6.8M781.1 420.1l6.8 6.8M781.1 426.9l6.8 -6.8M707.1 426.1l6.8 6.8M707.1 432.9l6.8 -6.8M784.1 427.1l6.8 6.8M784.1 433.9l6.8 -6.8M740.1 430.1l6.8 6.8M740.1 436.9l6.8 -6.8M758.1 430.1l6.8 6.8M758.1 436.9l6.8 -6.8M717.1 432.1l6.8 6.8M717.1 438.9l6.8 -6.8M759.1 434.1l6.8 6.8M759.1 440.9l6.8 -6.8M773.1 437.1l6.8 6.8M773.1 443.9l6.8 -6.8M668.1 438.1l6.8 6.8M668.1 444.9l6.8 -6.8M718.1 439.1l6.8 6.8M718.1 445.9l6.8 -6.8M678.1 440.1l6.8 6.8M678.1 446.9l6.8 -6.8M711.1 442.1l6.8 6.8M711.1 448.9l6.8 -6.8M756.1 444.1l6.8 6.8M756.1 450.9l6.8 -6.8M724.1 447.1l6.8 6.8M724.1 453.9l6.8 -6.8M777.1 447.1l6.8 6.8M777.1 453.9l6.8 -6.8M657.1 450.1l6.8 6.8M657.1 456.9l6.8 -6.8M766.1 450.1l6.8 6.8M766.1 456.9l6.8 -6.8M792.1 450.1l6.8 6.8M792.1 456.9l6.8 -6.8M776.1 452.1l6.8 6.8M776.1 458.9l6.8 -6.8M692.1 453.1l6.8 6.8M692.1 459.9l6.8 -6.8M745.1 454.1l6.8 6.8M745.1 460.9l6.8 -6.8M701.1 455.1l6.8 6.8M701.1 461.9l6.8 -6.8M727.1 455.1l6.8 6.8M727.1 461.9l6.8 -6.8M796.1 454.1l6.8 6.8M796.1 460.9l6.8 -6.8M799.1 456.1l6.8 6.8M799.1 462.9l6.8 -6.8M751.1 456.1l6.8 6.8M751.1 462.9l6.8 -6.8M760.1 458.1l6.8 6.8M760.1 464.9l6.8 -6.8M656.1 458.1l6.8 6.8M656.1 464.9l6.8 -6.8M666.1 458.1l6.8 6.8M666.1 464.9l6.8 -6.8M702.1 462.1l6.8 6.8M702.1 468.9l6.8 -6.8M706.1 463.1l6.8 6.8M706.1 469.9l6.8 -6.8M675.1 463.1l6.8 6.8M675.1 469.9l6.8 -6.8M719.1 463.1l6.8 6.8M719.1 469.9l6.8 -6.8M736.1 468.1l6.8 6.8M736.1 474.9l6.8 -6.8M748.1 469.1l6.8 6.8M748.1 475.9l6.8 -6.8M696.1 469.1l6.8 6.8M696.1 475.9l6.8 -6.8M714.1 469.1l6.8 6.8M714.1 475.9l6.8 -6.8M684.1 472.1l6.8 6.8M684.1 478.9l6.8 -6.8M697.1 472.1l6.8 6.8M697.1 478.9l6.8 -6.8M712.1 476.1l6.8 6.8M712.1 482.9l6.8 -6.8M663.1 477.1l6.8 6.8M663.1 483.9l6.8 -6.8M703.1 478.1l6.8 6.8M703.1 484.9l6.8 -6.8M746.1 479.1l6.8 6.8M746.1 485.9l6.8 -6.8M833.1 392.1l6.8 6.8M833.1 398.9l6.8 -6.8M866.1 403.1l6.8 6.8M866.1 409.9l6.8 -6.8M835.1 412.1l6.8 6.8M835.1 418.9l6.8 -6.8M839.1 414.1l6.8 6.8M839.1 420.9l6.8 -6.8M830.1 424.1l6.8 6.8M830.1 430.9l6.8 -6.8M831.1 427.1l6.8 6.8M831.1 433.9l6.8 -6.8M845.1 433.1l6.8 6.8M845.1 439.9l6.8 -6.8M860.1 435.1l6.8 6.8M860.1 441.9l6.8 -6.8M810.1 442.1l6.8 6.8M810.1 448.9l6.8 -6.8M853.1 441.1l6.8 6.8M853.1 447.9l6.8 -6.8M852.1 448.1l6.8 6.8M852.1 454.9l6.8 -6.8M864.1 457.1l6.8 6.8M864.1 463.9l6.8 -6.8M816.1 460.1l6.8 6.8M816.1 466.9l6.8 -6.8M825.1 460.1l6.8 6.8M825.1 466.9l6.8 -6.8M843.1 462.1l6.8 6.8M843.1 468.9l6.8 -6.8M811.1 464.1l6.8 6.8M811.1 470.9l6.8 -6.8M856.1 468.1l6.8 6.8M856.1 474.9l6.8 -6.8M861.1 470.1l6.8 6.8M861.1 476.9l6.8 -6.8M807.1 470.1l6.8 6.8M807.1 476.9l6.8 -6.8M822.1 479.1l6.8 6.8M822.1 485.9l6.8 -6.8M858.1 478.1l6.8 6.8M858.1 484.9l6.8 -6.8M849.1 481.1l6.8 6.8M849.1 487.9l6.8 -6.8M854.1 481.1l6.8 6.8M854.1 487.9l6.8 -6.8M254.1 485.1l6.8 6.8M254.1 491.9l6.8 -6.8M259.1 487.1l6.8 6.8M259.1 493.9l6.8 -6.8M261.1 484.1l6.8 6.8M261.1 490.9l6.8 -6.8M303.1 485.1l6.8 6.8M303.1 491.9l6.8 -6.8M313.1 484.1l6.8 6.8M313.1 490.9l6.8 -6.8M193.1 493.1l6.8 6.8M193.1 499.9l6.8 -6.8M307.1 493.1l6.8 6.8M307.1 499.9l6.8 -6.8M276.1 495.1l6.8 6.8M276.1 501.9l6.8 -6.8M205.1 500.1l6.8 6.8M205.1 506.9l6.8 -6.8M182.1 502.1l6.8 6.8M182.1 508.9l6.8 -6.8M269.1 500.1l6.8 6.8M269.1 506.9l6.8 -6.8M273.1 503.1l6.8 6.8M273.1 509.9l6.8 -6.8M309.1 500.1l6.8 6.8M309.1 506.9l6.8 -6.8M314.1 500.1l6.8 6.8M314.1 506.9l6.8 -6.8M207.1 506.1l6.8 6.8M207.1 512.9l6.8 -6.8M234.1 507.1l6.8 6.8M234.1 513.9l6.8 -6.8M190.1 508.1l6.8 6.8M190.1 514.9l6.8 -6.8M188.1 511.1l6.8 6.8M188.1 517.9l6.8 -6.8M256.1 511.1l6.8 6.8M256.1 517.9l6.8 -6.8M279.1 510.1l6.8 6.8M279.1 516.9l6.8 -6.8M270.1 515.1l6.8 6.8M270.1 521.9l6.8 -6.8M289.1 526.1l6.8 6.8M289.1 532.9l6.8 -6.8M356.1 483.1l6.8 6.8M356.1 489.9l6.8 -6.8M402.1 484.1l6.8 6.8M402.1 490.9l6.8 -6.8M407.1 483.1l6.8 6.8M407.1 489.9l6.8 -6.8M470.1 483.1l6.8 6.8M470.1 489.9l6.8 -6.8M482.1 483.1l6.8 6.8M482.1 489.9l6.8 -6.8M389.1 489.1l6.8 6.8M389.1 495.9l6.8 -6.8M402.1 489.1l6.8 6.8M402.1 495.9l6.8 -6.8M412.1 489.1l6.8 6.8M412.1 495.9l6.8 -6.8M429.1 486.1l6.8 6.8M429.1 492.9l6.8 -6.8M445.1 491.1l6.8 6.8M445.1 497.9l6.8 -6.8M332.1 493.1l6.8 6.8M332.1 499.9l6.8 -6.8M366.1 497.1l6.8 6.8M366.1 503.9l6.8 -6.8M405.1 499.1l6.8 6.8M405.1 505.9l6.8 -6.8M474.1 499.1l6.8 6.8M474.1 505.9l6.8 -6.8M328.1 507.1l6.8 6.8M328.1 513.9l6.8 -6.8M367.1 507.1l6.8 6.8M367.1 513.9l6.8 -6.8M376.1 506.1l6.8 6.8M376.1 512.9l6.8 -6.8M399.1 522.1l6.8 6.8M399.1 528.9l6.8 -6.8M424.1 520.1l6.8 6.8M424.1 526.9l6.8 -6.8M456.1 521.1l6.8 6.8M456.1 527.9l6.8 -6.8M498.1 486.1l6.8 6.8M498.1 492.9l6.8 -6.8M550.1 485.1l6.8 6.8M550.1 491.9l6.8 -6.8M558.1 484.1l6.8 6.8M558.1 490.9l6.8 -6.8M577.1 486.1l6.8 6.8M577.1 492.9l6.8 -6.8M587.1 483.1l6.8 6.8M587.1 489.9l6.8 -6.8M610.1 484.1l6.8 6.8M610.1 490.9l6.8 -6.8M501.1 494.1l6.8 6.8M501.1 500.9l6.8 -6.8M571.1 492.1l6.8 6.8M571.1 498.9l6.8 -6.8M594.1 491.1l6.8 6.8M594.1 497.9l6.8 -6.8M599.1 495.1l6.8 6.8M599.1 501.9l6.8 -6.8M631.1 491.1l6.8 6.8M631.1 497.9l6.8 -6.8M513.1 501.1l6.8 6.8M513.1 507.9l6.8 -6.8M547.1 500.1l6.8 6.8M547.1 506.9l6.8 -6.8M515.1 506.1l6.8 6.8M515.1 512.9l6.8 -6.8M569.1 503.1l6.8 6.8M569.1 509.9l6.8 -6.8M611.1 506.1l6.8 6.8M611.1 512.9l6.8 -6.8M632.1 507.1l6.8 6.8M632.1 513.9l6.8 -6.8M544.1 512.1l6.8 6.8M544.1 518.9l6.8 -6.8M555.1 511.1l6.8 6.8M555.1 517.9l6.8 -6.8M525.1 514.1l6.8 6.8M525.1 520.9l6.8 -6.8M495.1 518.1l6.8 6.8M495.1 524.9l6.8 -6.8M626.1 527.1l6.8 6.8M626.1 533.9l6.8 -6.8M575.1 552.1l6.8 6.8M575.1 558.9l6.8 -6.8M651.1 487.1l6.8 6.8M651.1 493.9l6.8 -6.8M698.1 489.1l6.8 6.8M698.1 495.9l6.8 -6.8M722.1 490.1l6.8 6.8M722.1 496.9l6.8 -6.8M730.1 487.1l6.8 6.8M730.1 493.9l6.8 -6.8M737.1 486.1l6.8 6.8M737.1 492.9l6.8 -6.8M762.1 483.1l6.8 6.8M762.1 489.9l6.8 -6.8M774.1 485.1l6.8 6.8M774.1 491.9l6.8 -6.8M779.1 486.1l6.8 6.8M779.1 492.9l6.8 -6.8M787.1 485.1l6.8 6.8M787.1 491.9l6.8 -6.8M801.1 486.1l6.8 6.8M801.1 492.9l6.8 -6.8M804.1 488.1l6.8 6.8M804.1 494.9l6.8 -6.8M654.1 497.1l6.8 6.8M654.1 503.9l6.8 -6.8M690.1 496.1l6.8 6.8M690.1 502.9l6.8 -6.8M687.1 502.1l6.8 6.8M687.1 508.9l6.8 -6.8M669.1 504.1l6.8 6.8M669.1 510.9l6.8 -6.8M673.1 504.1l6.8 6.8M673.1 510.9l6.8 -6.8M742.1 504.1l6.8 6.8M742.1 510.9l6.8 -6.8M768.1 502.1l6.8 6.8M768.1 508.9l6.8 -6.8M770.1 499.1l6.8 6.8M770.1 505.9l6.8 -6.8M793.1 504.1l6.8 6.8M793.1 510.9l6.8 -6.8M728.1 511.1l6.8 6.8M728.1 517.9l6.8 -6.8M694.1 516.1l6.8 6.8M694.1 522.9l6.8 -6.8M658.1 521.1l6.8 6.8M658.1 527.9l6.8 -6.8M731.1 526.1l6.8 6.8M731.1 532.9l6.8 -6.8M790.1 523.1l6.8 6.8M790.1 529.9l6.8 -6.8M648.1 528.1l6.8 6.8M648.1 534.9l6.8 -6.8M685.1 533.1l6.8 6.8M685.1 539.9l6.8 -6.8M820.1 498.1l6.8 6.8M820.1 504.9l6.8 -6.8M841.1 505.1l6.8 6.8M841.1 511.9l6.8 -6.8M847.1 507.1l6.8 6.8M847.1 513.9l6.8 -6.8M817.1 515.1l6.8 6.8M817.1 521.9l6.8 -6.8M837.1 525.1l6.8 6.8M837.1 531.9l6.8 -6.8M827.1 549.1l6.8 6.8M827.1 555.9l6.8 -6.8M814.1 557.1l6.8 6.8M814.1 563.9l6.8 -6.8M212.1 109.1l6.8 6.8M212.1 115.9l6.8 -6.8M195.1 183.1l6.8 6.8M195.1 189.9l6.8 -6.8M176.1 224.1l6.8 6.8M176.1 230.9l6.8 -6.8M349.1 208.1l6.8 6.8M349.1 214.9l6.8 -6.8M440.1 177.1l6.8 6.8M440.1 183.9l6.8 -6.8M436.1 190.1l6.8 6.8M436.1 196.9l6.8 -6.8M463.1 305.1l6.8 6.8M463.1 311.9l6.8 -6.8M295.1 314.1l6.8 6.8M295.1 320.9l6.8 -6.8M492.1 198.1l6.8 6.8M492.1 204.9l6.8 -6.8M524.1 231.1l6.8 6.8M524.1 237.9l6.8 -6.8M507.1 248.1l6.8 6.8M507.1 254.9l6.8 -6.8M543.1 261.1l6.8 6.8M543.1 267.9l6.8 -6.8M589.1 266.1l6.8 6.8M589.1 272.9l6.8 -6.8M590.1 283.1l6.8 6.8M590.1 289.9l6.8 -6.8M644.1 206.1l6.8 6.8M644.1 212.9l6.8 -6.8M638.1 237.1l6.8 6.8M638.1 243.9l6.8 -6.8M734.1 231.1l6.8 6.8M734.1 237.9l6.8 -6.8M765.1 210.1l6.8 6.8M765.1 216.9l6.8 -6.8M809.1 227.1l6.8 6.8M809.1 233.9l6.8 -6.8M797.1 260.1l6.8 6.8M797.1 266.9l6.8 -6.8M798.1 281.1l6.8 6.8M798.1 287.9l6.8 -6.8M561.1 326.1l6.8 6.8M561.1 332.9l6.8 -6.8M754.1 331.1l6.8 6.8M754.1 337.9l6.8 -6.8M267.1 333.1l6.8 6.8M267.1 339.9l6.8 -6.8M326.1 335.1l6.8 6.8M326.1 341.9l6.8 -6.8M393.1 343.1l6.8 6.8M393.1 349.9l6.8 -6.8"/>
<path class="ax" d="M107.5 79.5H902.5V607.5H107.5ZM107.5 607.5h9.5M107.5 554.5h9.5M107.5 501.5h9.5M107.5 449.5h9.5M107.5 396.5h9.5M107.5 343.5h9.5M107.5 290.5h9.5M107.5 237.5h9.5M107.5 185.5h9.5M107.5 132.5h9.5M107.5 79.5h9.5M902.5 607.5h-9.5M902.5 548.5h-9.5M902.5 490.5h-9.5M902.5 431.5h-9.5M902.5 372.5h-9.5M902.5 314.5h-9.5M902.5 255.5h-9.5M902.5 196.5h-9.5M902.5 138.5h-9.5M902.5 79.5h-9.5M107.5 608.0v-9.0M107.5 79.0v9.0M132.5 608.0v-5.0M132.5 79.0v5.0M157.5 608.0v-5.0M157.5 79.0v5.0M182.5 608.0v-5.0M182.5 79.0v5.0M207.5 608.0v-9.0M207.5 79.0v9.0M232.5 608.0v-5.0M232.5 79.0v5.0M256.5 608.0v-5.0M256.5 79.0v5.0M281.5 608.0v-5.0M281.5 79.0v5.0M306.5 608.0v-9.0M306.5 79.0v9.0M331.5 608.0v-5.0M331.5 79.0v5.0M356.5 608.0v-5.0M356.5 79.0v5.0M381.5 608.0v-5.0M381.5 79.0v5.0M405.5 608.0v-9.0M405.5 79.0v9.0M430.5 608.0v-5.0M430.5 79.0v5.0M455.5 608.0v-5.0M455.5 79.0v5.0M480.5 608.0v-5.0M480.5 79.0v5.0M505.5 608.0v-9.0M505.5 79.0v9.0M530.5 608.0v-5.0M530.5 79.0v5.0M554.5 608.0v-5.0M554.5 79.0v5.0M579.5 608.0v-5.0M579.5 79.0v5.0M604.5 608.0v-9.0M604.5 79.0v9.0M629.5 608.0v-5.0M629.5 79.0v5.0M654.5 608.0v-5.0M654.5 79.0v5.0M679.5 608.0v-5.0M679.5 79.0v5.0M704.5 608.0v-9.0M704.5 79.0v9.0M728.5 608.0v-5.0M728.5 79.0v5.0M753.5 608.0v-5.0M753.5 79.0v5.0M778.5 608.0v-5.0M778.5 79.0v5.0M803.5 608.0v-9.0M803.5 79.0v9.0M828.5 608.0v-5.0M828.5 79.0v5.0M853.5 608.0v-5.0M853.5 79.0v5.0M877.5 608.0v-5.0M877.5 79.0v5.0M902.5 608.0v-9.0M902.5 79.0v9.0"/>
<text x="98.9" y="85.8" text-anchor="end">25.000</text>
<text x="98.9" y="138.8" text-anchor="end">20.000</text>
<text x="98.9" y="191.8" text-anchor="end">15.000</text>
<text x="98.9" y="243.8" text-anchor="end">10.000</text>
<text x="98.9" y="296.8" text-anchor="end">5.000</text>
<text x="98.9" y="349.8" text-anchor="end">0.000</text>
<text x="98.9" y="402.8" text-anchor="end">-5.000</text>
<text x="98.9" y="455.8" text-anchor="end">-10.000</text>
<text x="98.9" y="507.8" text-anchor="end">-15.000</text>
<text x="98.9" y="560.8" text-anchor="end">-20.000</text>
<text x="98.9" y="613.8" text-anchor="end">-25.000</text>
<text x="915.6" y="85.8">1.450</text>
<text x="915.6" y="144.8">1.400</text>
<text x="915.6" y="202.8">1.350</text>
<text x="915.6" y="261.8">1.300</text>
<text x="915.6" y="320.8">1.250</text>
<text x="915.6" y="378.8">1.200</text>
<text x="915.6" y="437.8">1.150</text>
<text x="915.6" y="496.8">1.100</text>
<text x="915.6" y="554.8">1.050</text>
<text x="915.6" y="613.8">1.000</text>
<text transform="translate(102.8,617.2) rotate(-90)" text-anchor="end">2026-01-05</text>
<text transform="translate(124.7,617.2) rotate(-90)" text-anchor="end">00:00</text>
<text transform="translate(202.2,617.2) rotate(-90)" text-anchor="end">2026-01-06</text>
<text transform="translate(224.1,617.2) rotate(-90)" text-anchor="end">00:00</text>
<text transform="translate(301.6,617.2) rotate(-90)" text-anchor="end">2026-01-07</text>
<text transform="translate(323.4,617.2) rotate(-90)" text-anchor="end">00:00</text>
<text transform="translate(400.9,617.2) rotate(-90)" text-anchor="end">2026-01-08</text>
<text transform="translate(422.8,617.2) rotate(-90)" text-anchor="end">00:00</text>
<text transform="translate(500.3,617.2) rotate(-90)" text-anchor="end">2026-01-09</text>
<text transform="translate(522.2,617.2) rotate(-90)" text-anchor="end">00:00</text>
<text transform="translate(599.7,617.2) rotate(-90)" text-anchor="end">2026-01-10</text>
<text transform="translate(621.6,617.2) rotate(-90)" text-anchor="end">00:00</text>
<text transform="translate(699.0,617.2) rotate(-90)" text-anchor="end">2026-01-11</text>
<text transform="translate(721.0,617.2) rotate(-90)" text-anchor="end">00:00</text>
<text transform="translate(798.4,617.2) rotate(-90)" text-anchor="end">2026-01-12</text>
<text transform="translate(820.3,617.2) rotate(-90)" text-anchor="end">00:00</text>
<text transform="translate(897.8,617.2) rotate(-90)" text-anchor="end">2026-01-13</text>
<text transform="translate(919.7,617.2) rotate(-90)" text-anchor="end">00:00</text>
<text transform="translate(24.2,343.5) rotate(-90)" text-anchor="middle" textLength="82.5" lengthAdjust="spacingAndGlyphs">Offset (ms)</text>
<text transform="translate(992,343.2) rotate(-90)" text-anchor="middle" textLength="79.3" lengthAdjust="spacingAndGlyphs">Delay (ms)</text>
<text x="505.5" y="735.9" text-anchor="middle">UTC</text>
<text x="444" y="753.7" text-anchor="end" textLength="201.5" lengthAdjust="spacingAndGlyphs">time offset (+/- dispersion)</text>
<text x="757.6" y="753.7" text-anchor="end" textLength="40.3" lengthAdjust="spacingAndGlyphs">delay</text>
<path class="r" d="M470.2 747.5h6.6M473.5 744.2v6.6"/>
<path class="b" d="M785.1 744.1l6.8 6.8M785.1 750.9l6.8 -6.8"/>
</svg></body></html>
